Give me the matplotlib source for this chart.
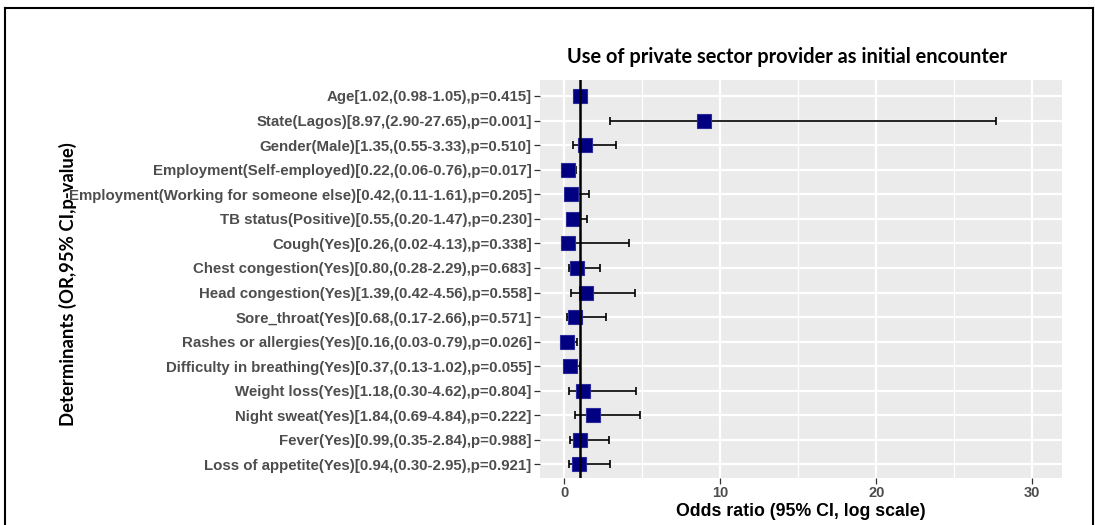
import numpy as np
import matplotlib.pyplot as plt
from matplotlib.lines import Line2D

# Determinants, top to bottom
labels = [
    'Age', 'State(Lagos)', 'Gender(Male)', 'Employment(Self-employed)',
    'Employment(Working for someone else)', 'TB status(Positive)', 'Cough(Yes)',
    'Chest congestion(Yes)', 'Head congestion(Yes)', 'Sore_throat(Yes)',
    'Rashes or allergies(Yes)', 'Difficulty in breathing(Yes)', 'Weight loss(Yes)',
    'Night sweat(Yes)', 'Fever(Yes)', 'Loss of appetite(Yes)',
]
odds = [1.02, 8.97, 1.35, 0.22, 0.42, 0.55, 0.26, 0.80, 1.39, 0.68, 0.16, 0.37, 1.18, 1.84, 0.99, 0.94]
ci_low = [0.98, 2.90, 0.55, 0.06, 0.11, 0.20, 0.02, 0.28, 0.42, 0.17, 0.03, 0.13, 0.30, 0.69, 0.35, 0.30]
ci_high = [1.05, 27.65, 3.33, 0.76, 1.61, 1.47, 4.13, 2.29, 4.56, 2.66, 0.79, 1.02, 4.62, 4.84, 2.84, 2.95]
pvals = ['0.415', '0.001', '0.510', '0.017', '0.205', '0.230', '0.338', '0.683',
         '0.558', '0.571', '0.026', '0.055', '0.804', '0.222', '0.988', '0.921']
xticks = [0, 10, 20, 30]

tick_labels = [f'{l}[{o:.2f},({lo:.2f}-{hi:.2f}),p={p}]'
               for l, o, lo, hi, p in zip(labels, odds, ci_low, ci_high, pvals)]

W, H = 1095, 525
fig = plt.figure(figsize=(W / 100, H / 100), dpi=100)
ax = fig.add_axes([540 / W, 1 - 478 / H, (1062 - 540) / W, (478 - 80) / H])

n = len(labels)
y = np.arange(n)[::-1]
odds = np.array(odds)
lo = np.array(ci_low)
hi = np.array(ci_high)

ax.set_facecolor('#EBEBEB')
for xv in [5, 15, 25]:
    ax.axvline(xv, color='white', lw=0.9, zorder=0)
for xv in xticks:
    ax.axvline(xv, color='white', lw=1.6, zorder=0)
for yv in y:
    ax.axhline(yv, color='white', lw=1.6, zorder=0)

ax.errorbar(odds, y, xerr=[odds - lo, hi - odds], fmt='none', ecolor='black',
            elinewidth=1.2, capsize=3, capthick=1.2, zorder=2)
ax.plot(odds, y, 's', color='#000080', mec='#2a2a9a', mew=0.8, ms=10.5, zorder=3)
ax.axvline(1, color='black', lw=1.8, zorder=4)

ax.set_xlim(-1.56, 31.9)
ax.set_ylim(-0.55, n - 1 + 0.65)
ax.set_xticks(xticks)
ax.set_xticklabels([str(t) for t in xticks], fontsize=10.5, fontweight='bold',
                   color='#4D4D4D', family='Liberation Sans')
ax.set_yticks(y)
ax.set_yticklabels(tick_labels, fontsize=10.8, fontweight='bold', color='#4D4D4D',
                   family='Liberation Sans')
ax.tick_params(axis='both', length=4, width=0.9, color='#333333', pad=2)
for s in ax.spines.values():
    s.set_visible(False)

ax.set_xlabel('Odds ratio (95% CI, log scale)', fontsize=12.8, fontweight='bold',
              family='Liberation Sans', labelpad=2)
fig.text(787 / W, 1 - 57 / H, 'Use of private sector provider as initial encounter',
         ha='center', va='center', fontsize=14.4, fontweight='bold', family='Lato')
fig.text(68 / W, 1 - 284 / H, 'Determinants (OR,95% CI,p-value)', rotation=90,
         ha='center', va='center', fontsize=13.3, fontweight='bold', family='Lato')

# outer frame
for xs, ys in [([5 / W, 5 / W], [0, 1 - 8 / H]),
               ([5 / W, 1093 / W], [1 - 8 / H, 1 - 8 / H]),
               ([1093 / W, 1093 / W], [0, 1 - 8 / H])]:
    fig.add_artist(Line2D(xs, ys, color='black', lw=1.5, transform=fig.transFigure))

fig.savefig('out.png', dpi=100)
